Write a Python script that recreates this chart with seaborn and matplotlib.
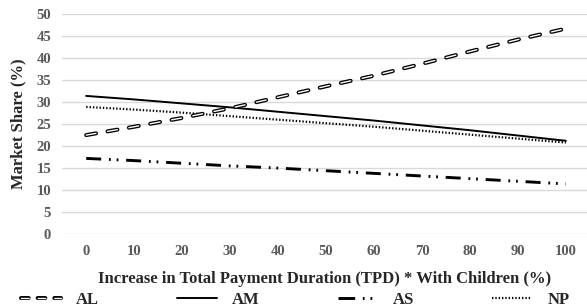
import pandas as pd
import matplotlib
matplotlib.use("Agg")
import matplotlib.pyplot as plt
import matplotlib.patheffects as pe
from matplotlib.lines import Line2D
import seaborn as sns

# === Data ===
tpd_increase = [0, 10, 20, 30, 40, 50, 60, 70, 80, 90, 100]
share_al = [22.5, 24.4, 26.4, 28.6, 31.1, 33.6, 36.0, 38.7, 41.5, 44.2, 46.7]
share_am = [31.4, 30.6, 29.7, 28.8, 27.8, 26.8, 25.8, 24.7, 23.6, 22.4, 21.2]
share_as = [17.2, 16.7, 16.1, 15.5, 15.0, 14.4, 13.8, 13.2, 12.6, 12.0, 11.4]
share_np = [28.9, 28.3, 27.6, 26.8, 26.0, 25.2, 24.4, 23.5, 22.6, 21.7, 20.8]
series_names = ["AL", "AM", "AS", "NP"]

df = pd.concat([
    pd.DataFrame({"tpd": tpd_increase, "share": vals, "series": name})
    for name, vals in zip(series_names, [share_al, share_am, share_as, share_np])
])

sns.set_style("white")
plt.rcParams["font.family"] = ["Liberation Serif", "DejaVu Serif"]
plt.rcParams["font.weight"] = "bold"

fig = plt.figure(figsize=(5.87, 3.06), dpi=100)
ax = fig.add_axes([0.106, 0.235, 0.894, 0.719])

# line styles (width in pt, dash pattern in pt -- converted to linewidth units below)
styles = {
    "AL": dict(lw=1.0, dashes=(7.2, 8.4), color="white"),
    "AM": dict(lw=1.4, dashes=None, color="black"),
    "AS": dict(lw=2.1, dashes=(10.8, 5.6, 1.3, 4.2, 1.3, 5.6), color="black"),
    "NP": dict(lw=1.6, dashes=(1.0, 1.4), color="black"),
}
legend_dashes = {"AL": (5.5, 6.5), "AS": (12, 5.5, 1.3, 4.2, 1.3, 10)}
outline = [pe.Stroke(linewidth=2.9, foreground="black"), pe.Normal()]


def to_lw_units(pattern, lw):
    return [v / lw for v in pattern]


sns.lineplot(data=df, x="tpd", y="share", hue="series", hue_order=series_names,
             palette=["black"] * 4, legend=False, ax=ax)

for line, name in zip(ax.get_lines(), series_names):
    st = styles[name]
    line.set_color(st["color"])
    line.set_linewidth(st["lw"])
    if st["dashes"] is not None:
        line.set_dashes(to_lw_units(st["dashes"], st["lw"]))
    if name == "AL":
        line.set_dash_capstyle("round")
        line.set_path_effects(outline)
        line.set_zorder(3)

ax.set_xlim(-5, 104.4)
ax.set_ylim(0, 50)
ax.set_xticks(tpd_increase)
ax.set_yticks(range(0, 51, 5))
ax.grid(axis="y", color="#d9d9d9", linewidth=1.0)
ax.set_axisbelow(True)
for sp in ax.spines.values():
    sp.set_visible(False)
ax.tick_params(axis="both", length=0, labelsize=10.5, labelcolor="#595959")
ax.tick_params(axis="y", pad=8)
ax.tick_params(axis="x", pad=8)
for lab in ax.get_xticklabels() + ax.get_yticklabels():
    lab.set_fontweight("bold")

ax.set_xlabel("Increase in Total Payment Duration (TPD) * With Children (%)",
              fontsize=12, fontweight="bold", labelpad=9)
ax.set_ylabel("Market Share (%)", fontsize=12, fontweight="bold", labelpad=7)

# legend
handles = []
for name in series_names:
    st = styles[name]
    h = Line2D([], [], color=st["color"], linewidth=st["lw"])
    if st["dashes"] is not None:
        h.set_dashes(to_lw_units(legend_dashes.get(name, st["dashes"]), st["lw"]))
    if name == "AL":
        h.set_dash_capstyle("round")
        h.set_path_effects(outline)
    handles.append(h)
fig.legend(handles, series_names, loc="lower left", bbox_to_anchor=(0.035, -0.005, 0.935, 0.07),
           ncol=4, mode="expand", frameon=False, fontsize=12, handlelength=2.4,
           handletextpad=0.9, borderaxespad=0, borderpad=0)

fig.savefig("out.png", dpi=100)
